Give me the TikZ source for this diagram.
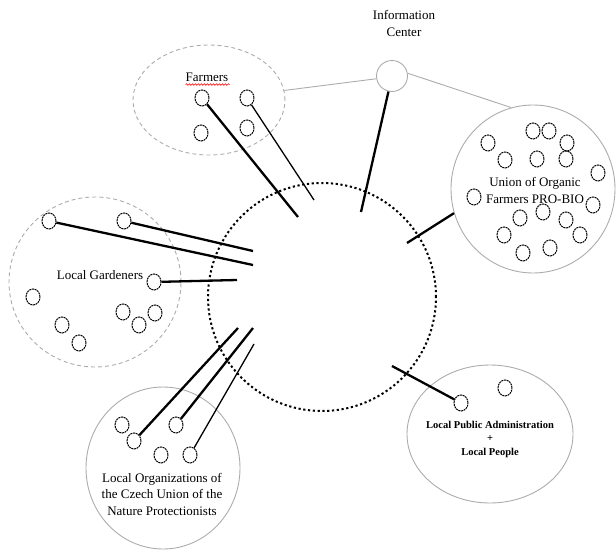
\documentclass[tikz,border=0pt]{standalone}
\usepackage{fontspec}
\setmainfont{Liberation Serif}
\usetikzlibrary{shapes.geometric,decorations.pathmorphing}
\begin{document}
\begin{tikzpicture}[x=1pt,y=-1pt,
  sm/.style={draw,ellipse,minimum width=14pt,minimum height=16pt,inner sep=0pt,line width=1pt,dash pattern=on 2pt off 0.7pt},
  grpdash/.style={draw=gray!65,ellipse,inner sep=0pt,line width=0.9pt,dash pattern=on 4pt off 3pt},
  grpsolid/.style={draw=gray!65,ellipse,inner sep=0pt,line width=0.9pt},
  lbl/.style={font=\fontsize{13}{16.5}\selectfont,inner sep=0pt,align=center},
  smalllbl/.style={font=\fontsize{10.5}{13.5}\selectfont\bfseries,inner sep=0pt,align=center},
  thickc/.style={line width=2.3pt},
  thinc/.style={line width=1.3pt},
  greyc/.style={draw=gray!65,line width=0.9pt}]
\useasboundingbox (0,0) rectangle (616,557);

% hub
\node[circle,draw,minimum size=228pt,inner sep=0pt,line width=2pt,dash pattern=on 2.2pt off 2.6pt] (hub) at (322,297) {};

% information center
\node[circle,draw=gray!65,line width=0.9pt,minimum size=31pt,inner sep=0pt] (info) at (392,76) {};
\node[lbl] (infolbl) at (404,23.5) {Information\\Center};

% groups
\node[grpdash,minimum width=152pt,minimum height=110pt] (farmers) at (209,100) {};
\node[grpdash,minimum width=172pt,minimum height=170pt] (gard) at (95,282) {};
\node[grpsolid,minimum width=164pt,minimum height=168pt] (union) at (533,189) {};
\node[grpsolid,minimum width=154pt,minimum height=162pt] (orgs) at (163,468) {};
\node[grpsolid,minimum width=166pt,minimum height=138pt] (pub) at (490,434) {};

% labels
\node[lbl] (farmerslbl) at (207,77) {Farmers};
\draw[red,line width=0.6pt,decorate,decoration={snake,amplitude=0.8pt,segment length=3pt}] (farmerslbl.south west) ++(0,3) -- ++(44,0);
\node[lbl] (unionlbl) at (535,190.5) {Union of Organic\\Farmers PRO-BIO};
\node[lbl] (gardlbl) at (100,275) {Local Gardeners};
\node[lbl] (orgslbl) at (162,494) {Local Organizations of\\the Czech Union of the\\Nature Protectionists};
\node[smalllbl] (publbl) at (490,439) {Local Public Administration\\+\\Local People};

% small circles: farmers
\node[sm] (f1) at (202,98) {};
\node[sm] (f2) at (247,98) {};
\node[sm] (f3) at (201,133) {};
\node[sm] (f4) at (247,128) {};

% union
\foreach \n/\p in {u1/{(533,131)},u2/{(549,131)},u3/{(488,143)},u4/{(567,143)},u5/{(505,160)},u6/{(537,159)},u7/{(566,159)},u8/{(598,173)},u9/{(474,197)},u10/{(593,205)},u11/{(543,212)},u12/{(520,218)},u13/{(566,220)},u14/{(580,235)},u15/{(504,235)},u16/{(523,253)},u17/{(550,248)}}
  \node[sm] (\n) at \p {};

% gardeners
\node[sm] (g1) at (49,221) {};
\node[sm] (g2) at (124,221) {};
\node[sm] (g3) at (154,282) {};
\node[sm] (g4) at (33,297) {};
\node[sm] (g5) at (123,312) {};
\node[sm] (g6) at (155,313) {};
\node[sm] (g7) at (139,325) {};
\node[sm] (g8) at (62,325) {};
\node[sm] (g9) at (79,343) {};

% organizations
\node[sm] (o1) at (122,425) {};
\node[sm] (o2) at (134,441) {};
\node[sm] (o3) at (176,425) {};
\node[sm] (o4) at (161,455) {};
\node[sm] (o5) at (190,455) {};

% public
\node[sm] (p1) at (461,403) {};
\node[sm] (p2) at (505,388) {};

% connector ends inside hub
\coordinate (fe1) at (298,217);
\coordinate (fe2) at (314,200);
\coordinate (ie) at (361,212);
\coordinate (ue) at (407,243);
\coordinate (ge1) at (253,265);
\coordinate (ge2) at (253,251);
\coordinate (ge3) at (237,280);
\coordinate (oe1) at (238,328);
\coordinate (oe2) at (253,328);
\coordinate (oe3) at (254,344);
\coordinate (pe) at (392,366);

% grey links
\draw[greyc] (info.190) -- (farmers);
\draw[greyc] (info.10) -- (union.105);

% connectors
\draw[thickc] (f1) -- (fe1);
\draw[thinc] (f2) -- (fe2);
\draw[thickc] (info) -- (ie);
\draw[thickc] (union.197) -- (ue);
\draw[thickc] (g1) -- (ge1);
\draw[thickc] (g2) -- (ge2);
\draw[thickc] (g3) -- (ge3);
\draw[thickc] (o2) -- (oe1);
\draw[thickc] (o3) -- (oe2);
\draw[thinc] (o5) -- (oe3);
\draw[thickc] (p1) -- (pe);
\end{tikzpicture}
\end{document}
